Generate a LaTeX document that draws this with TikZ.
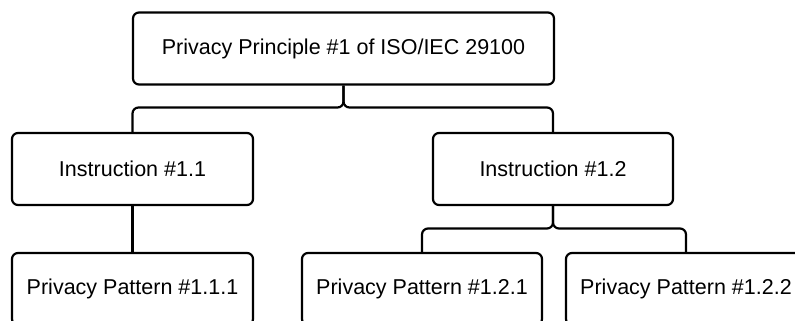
\documentclass[tikz,border=0pt]{standalone}
\usepackage{fontspec}
\setmainfont{Liberation Sans}
\begin{document}
\begin{tikzpicture}[x=1pt,y=-1pt,
  box/.style={draw=black, line width=2.2pt, rounded corners=6pt, fill=white,
    minimum height=72pt, inner sep=0pt, font=\fontsize{21.5}{25}\selectfont},
  conn/.style={draw=black, line width=2.2pt, rounded corners=6pt}]
\useasboundingbox (0,0) rectangle (795,321);
\clip (0,0) rectangle (795,321);
\node[box, minimum width=421pt] (top) at (343.5,48.5) {Privacy Principle \#1 of ISO/IEC 29100};
\node[box, minimum width=241pt] (i1) at (132.5,169) {Instruction \#1.1};
\node[box, minimum width=240pt] (i2) at (553,169) {Instruction \#1.2};
\node[box, minimum width=241pt] (p111) at (132.5,289) {Privacy Pattern \#1.1.1};
\node[box, minimum width=240pt] (p121) at (422,289) {Privacy Pattern \#1.2.1};
\node[box, minimum width=240pt] (p122) at (686,289) {Privacy Pattern \#1.2.2};
\coordinate (j1) at (343.5,107.5);
\coordinate (j2) at (553,228.5);
\draw[conn] (top.south) -- (j1) -| (i1.north);
\draw[conn] (top.south) -- (j1) -| (i2.north);
\draw[conn] (i1.south) -- (p111.north);
\draw[conn] (i2.south) -- (j2) -| (p121.north);
\draw[conn] (i2.south) -- (j2) -| (p122.north);
\end{tikzpicture}
\end{document}
